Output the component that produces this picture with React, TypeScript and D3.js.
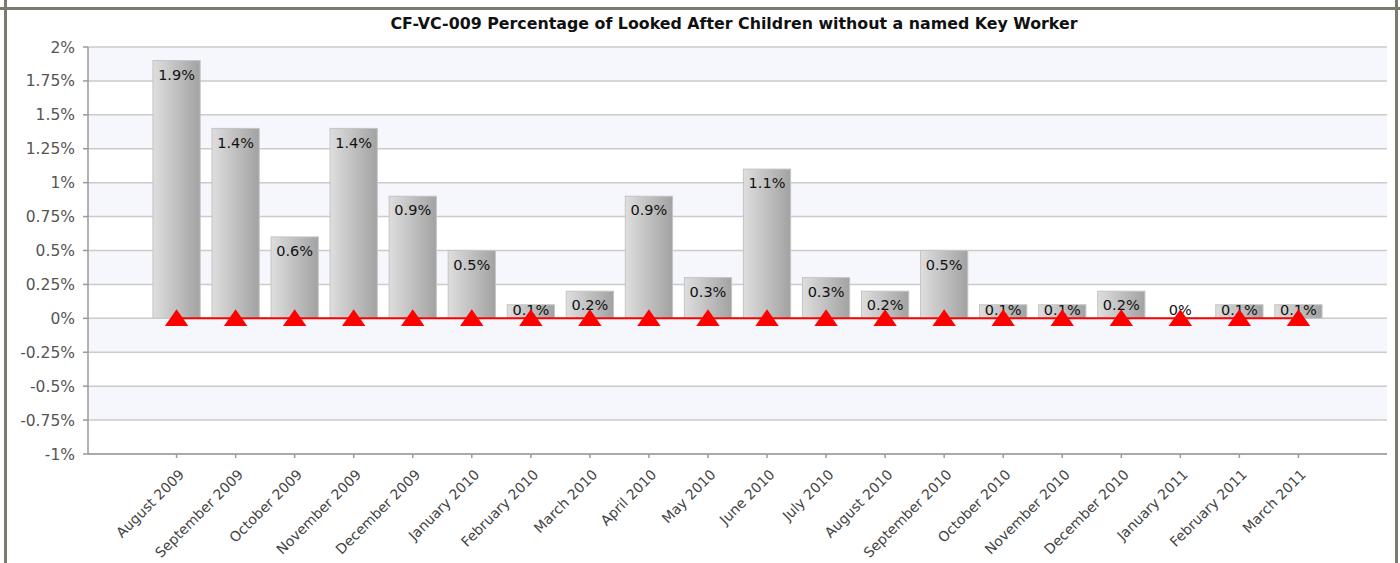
import React from "react";
import * as d3 from "d3";

const TITLE = "CF-VC-009 Percentage of Looked After Children without a named Key Worker";
const categories = [
  "August 2009", "September 2009", "October 2009", "November 2009", "December 2009",
  "January 2010", "February 2010", "March 2010", "April 2010", "May 2010",
  "June 2010", "July 2010", "August 2010", "September 2010", "October 2010",
  "November 2010", "December 2010", "January 2011", "February 2011", "March 2011",
];
const values = [1.9, 1.4, 0.6, 1.4, 0.9, 0.5, 0.1, 0.2, 0.9, 0.3, 1.1, 0.3, 0.2, 0.5, 0.1, 0.1, 0.2, 0, 0.1, 0.1];
const targets = [0, 0, 0, 0, 0, 0, 0, 0, 0, 0, 0, 0, 0, 0, 0, 0, 0, 0, 0, 0];
const yTicks = [2, 1.75, 1.5, 1.25, 1, 0.75, 0.5, 0.25, 0, -0.25, -0.5, -0.75, -1];

const W = 1400;
const H = 563;
const left = 88;
const right = 1387;
const top = 47;
const bottom = 454;
const FONT = "'DejaVu Sans', Verdana, sans-serif";

const fmt = (v: number) => `${+v.toFixed(2)}%`;

export default function App() {
  const y = d3.scaleLinear().domain([-1, 2]).range([bottom, top]);
  const x = d3.scalePoint<string>().domain(categories).range([left, right]).padding(1.5);
  const bw = x.step() * 0.8;
  const bands = d3.range(yTicks.length - 1);
  const line = d3
    .line<number>()
    .x((_, i) => x(categories[i]) as number)
    .y((d) => y(d));
  const tri = d3.symbol().type(d3.symbolTriangle).size(180)();

  return (
    <svg width={W} height={H} style={{ position: "absolute", left: 0, top: 0, background: "#fff" }} fontFamily={FONT}>
      <defs>
        <linearGradient id="barGrad" x1="0" x2="1" y1="0" y2="0">
          <stop offset="0%" stopColor="#dedede" />
          <stop offset="100%" stopColor="#a2a2a2" />
        </linearGradient>
      </defs>
      <rect x={0} y={0} width={W} height={H} fill="#fff" />
      {bands.map((i) => (
        <rect
          key={"b" + i}
          x={left}
          y={y(yTicks[i])}
          width={right - left}
          height={y(yTicks[i + 1]) - y(yTicks[i])}
          fill={i % 2 === 0 ? "#f6f7fc" : "#ffffff"}
        />
      ))}
      {yTicks.map((t) => (
        <line key={"g" + t} x1={left} x2={right} y1={y(t)} y2={y(t)} stroke="#cbcbcb" strokeWidth={1.5} />
      ))}
      <line x1={left} x2={left} y1={top} y2={bottom} stroke="#9a9a9a" strokeWidth={1.5} />
      {yTicks.map((t) => (
        <g key={"yt" + t}>
          <line x1={left - 5} x2={left} y1={y(t)} y2={y(t)} stroke="#9a9a9a" strokeWidth={1.5} />
          <text x={left - 13} y={y(t)} dy="0.36em" textAnchor="end" fontSize={15.5} fill="#555">
            {fmt(t)}
          </text>
        </g>
      ))}
      <line x1={left} x2={right} y1={bottom} y2={bottom} stroke="#9a9a9a" strokeWidth={1.5} />
      {categories.map((c) => (
        <g key={"xt" + c}>
          <line x1={x(c)} x2={x(c)} y1={bottom} y2={bottom + 4} stroke="#9a9a9a" strokeWidth={1.5} />
          <text
            transform={`translate(${(x(c) as number) + 5},${bottom + 18}) rotate(-45)`}
            textAnchor="end"
            dy="0.35em"
            fontSize={14}
            fill="#444"
          >
            {c}
          </text>
        </g>
      ))}
      {values.map((v, i) => {
        const cx = x(categories[i]) as number;
        const y0 = y(0);
        const y1 = y(v);
        return (
          <rect
            key={"bar" + i}
            x={cx - bw / 2}
            y={Math.min(y0, y1)}
            width={bw}
            height={Math.abs(y0 - y1)}
            fill="url(#barGrad)"
            stroke="#c4c4c4"
            strokeWidth={1}
          />
        );
      })}
      <path d={line(targets) as string} fill="none" stroke="#ff0000" strokeWidth={2} />
      {values.map((v, i) => {
        const cx = x(categories[i]) as number;
        const ly = Math.min(y(v) + 14, y(0) - 9);
        return (
          <text key={"lbl" + i} x={cx} y={ly} dy="0.36em" textAnchor="middle" fontSize={14.5} fill="#111">
            {fmt(v)}
          </text>
        );
      })}
      {targets.map((t, i) => (
        <path
          key={"tri" + i}
          d={tri as string}
          transform={`translate(${x(categories[i])},${y(t) + 2}) scale(1.15,0.95)`}
          fill="#ff0000"
        />
      ))}
      <text x={734} y={29} textAnchor="middle" fontSize={15} fontWeight="bold" fill="#111" textLength={687} lengthAdjust="spacingAndGlyphs">
        {TITLE}
      </text>
      <line x1={0} x2={W} y1={8.5} y2={8.5} stroke="#7a7a6e" strokeWidth={3} />
      <line x1={5.5} x2={5.5} y1={0} y2={H} stroke="#7a7a6e" strokeWidth={3} />
      <line x1={1396.5} x2={1396.5} y1={0} y2={H} stroke="#7a7a6e" strokeWidth={3} />
    </svg>
  );
}
